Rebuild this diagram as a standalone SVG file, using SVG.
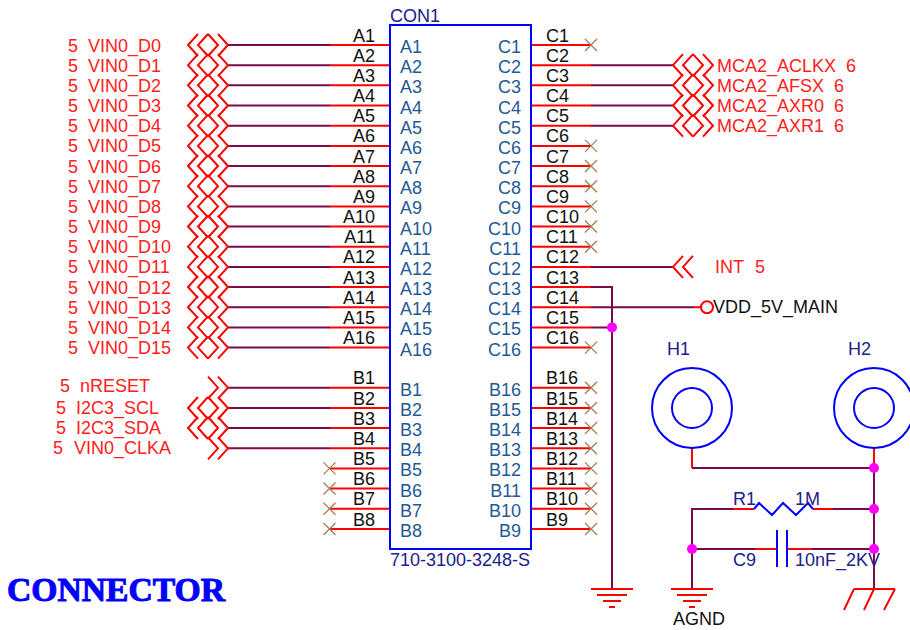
<svg xmlns="http://www.w3.org/2000/svg" width="910" height="630" viewBox="0 0 910 630">
<style>
text{font-family:"Liberation Sans",Arial,sans-serif;font-size:18px}
.n{fill:#ff2020}
.i{fill:#1f5a96}
.o{fill:#111}
.s{fill:#20208c}
.r{stroke:#ff0000;stroke-width:2;fill:none}
.d{stroke:#7a0a4a;stroke-width:2;fill:none}
.b{stroke:#0000ff;stroke-width:2;fill:none}
.c{stroke:#ff0000;stroke-width:2;fill:none}
.x{stroke:#a67c52;stroke-width:1.3;fill:none}
.j{fill:#ff00ff}
.t{font-family:"Liberation Serif",serif;font-weight:bold;font-size:33px;fill:#0000ff;stroke:#0000ff;stroke-width:1}
</style>
<defs>
<g id="ll"><path class="c" d="M10-11 0 0 10 11M20-11 10 0 20 11"/></g>
<g id="rr"><path class="c" d="M0-11 10 0 0 11M10-11 20 0 10 11"/></g>
<g id="nc"><path class="x" d="M-6-6 6 6M-6 6 6-6"/></g>
<g id="gnd"><path class="c" d="M-21 0H21M-15 6H15M-9 12H9M-3 18H3"/></g>
</defs>
<g id="connectors">
<path class="r" d="M330 45H390M330 65.2H390M330 85.3H390M330 105.5H390M330 125.7H390M330 145.9H390M330 166H390M330 186.2H390M330 206.4H390M330 226.5H390M330 246.7H390M330 266.9H390M330 287H390M330 307.2H390M330 327.4H390M330 347.6H390M330 387.7H390M330 408H390M330 428H390M330 448.3H390M330 468.4H390M330 488.5H390M330 508.7H390M330 529H390"/>
<path class="d" d="M228 45H330M228 65.2H330M228 85.3H330M228 105.5H330M228 125.7H330M228 145.9H330M228 166H330M228 186.2H330M228 206.4H330M228 226.5H330M228 246.7H330M228 266.9H330M228 287H330M228 307.2H330M228 327.4H330M228 347.6H330M228 387.7H330M228 408H330M228 428H330M228 448.3H330"/>
<path class="r" d="M531 45H591M531 65.2H591M531 85.3H591M531 105.5H591M531 125.7H591M531 145.9H591M531 166H591M531 186.2H591M531 206.4H591M531 226.5H591M531 246.7H591M531 266.9H591M531 287H591M531 307.2H591M531 327.4H591M531 347.6H591M531 387.7H591M531 408H591M531 428H591M531 448.3H591M531 468.4H591M531 488.5H591M531 508.7H591M531 529H591"/>
<path class="d" d="M591 65.2H673M591 85.3H673M591 105.5H673M591 125.7H673M591 266.9H673M591 287H612V589M591 307.2H694M591 327.4H612"/>
<path class="r" d="M694 307.2H701"/>
<path class="r" d="M692 448V468M874 448V468"/>
<path class="d" d="M692 468H874M874 468V589"/>
<path class="d" d="M692 589V509H733M833 509H874M692 549H755M812 549H874"/>
<path class="r" d="M733 509H754M813 509H833M755 549H777M787 549H812"/>
</g>
<g id="con1">
<rect class="b" x="390" y="25" width="141" height="524"/>
<text class="s" x="390" y="21.5">CON1</text>
<text class="s" x="390" y="566">710-3100-3248-S</text>
<g class="i">
<text class="i" x="400" y="53">A1</text><text class="i" x="400" y="73.2">A2</text><text class="i" x="400" y="93.3">A3</text><text class="i" x="400" y="113.5">A4</text><text class="i" x="400" y="133.7">A5</text><text class="i" x="400" y="153.9">A6</text><text class="i" x="400" y="174">A7</text><text class="i" x="400" y="194.2">A8</text><text class="i" x="400" y="214.4">A9</text><text class="i" x="400" y="234.5">A10</text><text class="i" x="400" y="254.7">A11</text><text class="i" x="400" y="274.9">A12</text><text class="i" x="400" y="295">A13</text><text class="i" x="400" y="315.2">A14</text><text class="i" x="400" y="335.4">A15</text><text class="i" x="400" y="355.6">A16</text>
<text class="i" x="400" y="395.7">B1</text><text class="i" x="400" y="416">B2</text><text class="i" x="400" y="436">B3</text><text class="i" x="400" y="456.3">B4</text><text class="i" x="400" y="476.4">B5</text><text class="i" x="400" y="496.5">B6</text><text class="i" x="400" y="516.7">B7</text><text class="i" x="400" y="537">B8</text>
</g>
<g text-anchor="end">
<text class="i" x="521" y="53">C1</text><text class="i" x="521" y="73.2">C2</text><text class="i" x="521" y="93.3">C3</text><text class="i" x="521" y="113.5">C4</text><text class="i" x="521" y="133.7">C5</text><text class="i" x="521" y="153.9">C6</text><text class="i" x="521" y="174">C7</text><text class="i" x="521" y="194.2">C8</text><text class="i" x="521" y="214.4">C9</text><text class="i" x="521" y="234.5">C10</text><text class="i" x="521" y="254.7">C11</text><text class="i" x="521" y="274.9">C12</text><text class="i" x="521" y="295">C13</text><text class="i" x="521" y="315.2">C14</text><text class="i" x="521" y="335.4">C15</text><text class="i" x="521" y="355.6">C16</text>
<text class="i" x="521" y="395.7">B16</text><text class="i" x="521" y="416">B15</text><text class="i" x="521" y="436">B14</text><text class="i" x="521" y="456.3">B13</text><text class="i" x="521" y="476.4">B12</text><text class="i" x="521" y="496.5">B11</text><text class="i" x="521" y="516.7">B10</text><text class="i" x="521" y="537">B9</text>
</g>
<g text-anchor="end">
<text class="o" x="375" y="41.5">A1</text><text class="o" x="375" y="61.7">A2</text><text class="o" x="375" y="81.8">A3</text><text class="o" x="375" y="102">A4</text><text class="o" x="375" y="122.2">A5</text><text class="o" x="375" y="142.4">A6</text><text class="o" x="375" y="162.5">A7</text><text class="o" x="375" y="182.7">A8</text><text class="o" x="375" y="202.9">A9</text><text class="o" x="375" y="223">A10</text><text class="o" x="375" y="243.2">A11</text><text class="o" x="375" y="263.4">A12</text><text class="o" x="375" y="283.5">A13</text><text class="o" x="375" y="303.7">A14</text><text class="o" x="375" y="323.9">A15</text><text class="o" x="375" y="344.1">A16</text>
<text class="o" x="375" y="384.2">B1</text><text class="o" x="375" y="404.5">B2</text><text class="o" x="375" y="424.5">B3</text><text class="o" x="375" y="444.8">B4</text><text class="o" x="375" y="464.9">B5</text><text class="o" x="375" y="485">B6</text><text class="o" x="375" y="505.2">B7</text><text class="o" x="375" y="525.5">B8</text>
</g>
<text class="o" x="546" y="41.5">C1</text><text class="o" x="546" y="61.7">C2</text><text class="o" x="546" y="81.8">C3</text><text class="o" x="546" y="102">C4</text><text class="o" x="546" y="122.2">C5</text><text class="o" x="546" y="142.4">C6</text><text class="o" x="546" y="162.5">C7</text><text class="o" x="546" y="182.7">C8</text><text class="o" x="546" y="202.9">C9</text><text class="o" x="546" y="223">C10</text><text class="o" x="546" y="243.2">C11</text><text class="o" x="546" y="263.4">C12</text><text class="o" x="546" y="283.5">C13</text><text class="o" x="546" y="303.7">C14</text><text class="o" x="546" y="323.9">C15</text><text class="o" x="546" y="344.1">C16</text>
<text class="o" x="546" y="384.2">B16</text><text class="o" x="546" y="404.5">B15</text><text class="o" x="546" y="424.5">B14</text><text class="o" x="546" y="444.8">B13</text><text class="o" x="546" y="464.9">B12</text><text class="o" x="546" y="485">B11</text><text class="o" x="546" y="505.2">B10</text><text class="o" x="546" y="525.5">B9</text>
</g>
<g id="no-connects">
<use href="#nc" x="591" y="45"/><use href="#nc" x="591" y="145.9"/><use href="#nc" x="591" y="166"/><use href="#nc" x="591" y="186.2"/><use href="#nc" x="591" y="206.4"/><use href="#nc" x="591" y="226.5"/><use href="#nc" x="591" y="246.7"/><use href="#nc" x="591" y="347.6"/>
<use href="#nc" x="591" y="387.7"/><use href="#nc" x="591" y="408"/><use href="#nc" x="591" y="428"/><use href="#nc" x="591" y="448.3"/><use href="#nc" x="591" y="468.4"/><use href="#nc" x="591" y="488.5"/><use href="#nc" x="591" y="508.7"/><use href="#nc" x="591" y="529"/>
<use href="#nc" x="329.5" y="468.4"/><use href="#nc" x="329.5" y="488.5"/><use href="#nc" x="329.5" y="508.7"/><use href="#nc" x="329.5" y="529"/>
</g>
<g id="VIN0_D0"><use href="#ll" x="188" y="45"/><use href="#rr" x="208" y="45"/><text class="n" x="68" y="51.5">5</text><text class="n" x="88" y="51.5">VIN0_D0</text></g>
<g id="VIN0_D1"><use href="#ll" x="188" y="65.2"/><use href="#rr" x="208" y="65.2"/><text class="n" x="68" y="71.7">5</text><text class="n" x="88" y="71.7">VIN0_D1</text></g>
<g id="VIN0_D2"><use href="#ll" x="188" y="85.3"/><use href="#rr" x="208" y="85.3"/><text class="n" x="68" y="91.8">5</text><text class="n" x="88" y="91.8">VIN0_D2</text></g>
<g id="VIN0_D3"><use href="#ll" x="188" y="105.5"/><use href="#rr" x="208" y="105.5"/><text class="n" x="68" y="112">5</text><text class="n" x="88" y="112">VIN0_D3</text></g>
<g id="VIN0_D4"><use href="#ll" x="188" y="125.7"/><use href="#rr" x="208" y="125.7"/><text class="n" x="68" y="132.2">5</text><text class="n" x="88" y="132.2">VIN0_D4</text></g>
<g id="VIN0_D5"><use href="#ll" x="188" y="145.9"/><use href="#rr" x="208" y="145.9"/><text class="n" x="68" y="152.4">5</text><text class="n" x="88" y="152.4">VIN0_D5</text></g>
<g id="VIN0_D6"><use href="#ll" x="188" y="166"/><use href="#rr" x="208" y="166"/><text class="n" x="68" y="172.5">5</text><text class="n" x="88" y="172.5">VIN0_D6</text></g>
<g id="VIN0_D7"><use href="#ll" x="188" y="186.2"/><use href="#rr" x="208" y="186.2"/><text class="n" x="68" y="192.7">5</text><text class="n" x="88" y="192.7">VIN0_D7</text></g>
<g id="VIN0_D8"><use href="#ll" x="188" y="206.4"/><use href="#rr" x="208" y="206.4"/><text class="n" x="68" y="212.9">5</text><text class="n" x="88" y="212.9">VIN0_D8</text></g>
<g id="VIN0_D9"><use href="#ll" x="188" y="226.5"/><use href="#rr" x="208" y="226.5"/><text class="n" x="68" y="233">5</text><text class="n" x="88" y="233">VIN0_D9</text></g>
<g id="VIN0_D10"><use href="#ll" x="188" y="246.7"/><use href="#rr" x="208" y="246.7"/><text class="n" x="68" y="253.2">5</text><text class="n" x="88" y="253.2">VIN0_D10</text></g>
<g id="VIN0_D11"><use href="#ll" x="188" y="266.9"/><use href="#rr" x="208" y="266.9"/><text class="n" x="68" y="273.4">5</text><text class="n" x="88" y="273.4">VIN0_D11</text></g>
<g id="VIN0_D12"><use href="#ll" x="188" y="287"/><use href="#rr" x="208" y="287"/><text class="n" x="68" y="293.5">5</text><text class="n" x="88" y="293.5">VIN0_D12</text></g>
<g id="VIN0_D13"><use href="#ll" x="188" y="307.2"/><use href="#rr" x="208" y="307.2"/><text class="n" x="68" y="313.7">5</text><text class="n" x="88" y="313.7">VIN0_D13</text></g>
<g id="VIN0_D14"><use href="#ll" x="188" y="327.4"/><use href="#rr" x="208" y="327.4"/><text class="n" x="68" y="333.9">5</text><text class="n" x="88" y="333.9">VIN0_D14</text></g>
<g id="VIN0_D15"><use href="#ll" x="188" y="347.6"/><use href="#rr" x="208" y="347.6"/><text class="n" x="68" y="354.1">5</text><text class="n" x="88" y="354.1">VIN0_D15</text></g>
<g id="nRESET"><use href="#rr" x="208" y="387.7"/><text class="n" x="60" y="392">5</text><text class="n" x="80" y="392">nRESET</text></g>
<g id="I2C3_SCL"><use href="#ll" x="188" y="408"/><use href="#rr" x="208" y="408"/><text class="n" x="56" y="414">5</text><text class="n" x="76" y="414">I2C3_SCL</text></g>
<g id="I2C3_SDA"><use href="#ll" x="188" y="428"/><use href="#rr" x="208" y="428"/><text class="n" x="56" y="434">5</text><text class="n" x="76" y="434">I2C3_SDA</text></g>
<g id="VIN0_CLKA"><use href="#rr" x="208" y="448.3"/><text class="n" x="53" y="454">5</text><text class="n" x="74" y="454">VIN0_CLKA</text></g>
<g id="MCA2_ACLKX"><use href="#ll" x="673" y="65.2"/><use href="#rr" x="693" y="65.2"/><text class="n" x="717" y="71.7">MCA2_ACLKX</text><text class="n" x="846" y="71.7">6</text></g>
<g id="MCA2_AFSX"><use href="#ll" x="673" y="85.3"/><use href="#rr" x="693" y="85.3"/><text class="n" x="717" y="91.8">MCA2_AFSX</text><text class="n" x="834" y="91.8">6</text></g>
<g id="MCA2_AXR0"><use href="#ll" x="673" y="105.5"/><use href="#rr" x="693" y="105.5"/><text class="n" x="717" y="112">MCA2_AXR0</text><text class="n" x="834" y="112">6</text></g>
<g id="MCA2_AXR1"><use href="#ll" x="673" y="125.7"/><use href="#rr" x="693" y="125.7"/><text class="n" x="717" y="132.2">MCA2_AXR1</text><text class="n" x="834" y="132.2">6</text></g>
<g id="INT"><use href="#ll" x="673" y="266.9"/><text class="n" x="715" y="273.4">INT</text><text class="n" x="755" y="273.4">5</text></g>
<g id="VDD_5V_MAIN"><circle cx="707" cy="307.2" r="6" class="c"/><text class="o" x="713" y="313">VDD_5V_MAIN</text></g>
<g id="J1"><circle class="j" cx="612" cy="327.4" r="5"/></g>
<g id="GND1"><use href="#gnd" x="612" y="589"/></g>
<g id="H1"><circle class="b" cx="692" cy="408" r="40"/><circle class="b" cx="692" cy="408" r="20"/><text class="s" x="667" y="355">H1</text></g>
<g id="H2"><circle class="b" cx="874" cy="408" r="40"/><circle class="b" cx="874" cy="408" r="20"/><text class="s" x="848" y="355">H2</text></g>
<g id="R1"><path class="b" d="M754 509 759 503 772 515 783 503 796 515 808 503 813 509"/><text class="s" x="733" y="505">R1</text><text class="s" x="795" y="505">1M</text></g>
<g id="C9"><path class="b" d="M777 530V567M787 530V567"/><text class="s" x="733" y="566">C9</text><text class="s" x="795" y="566">10nF_2KV</text></g>
<g id="junctions"><circle class="j" cx="874" cy="468" r="5"/><circle class="j" cx="874" cy="509" r="5"/><circle class="j" cx="874" cy="549" r="5"/><circle class="j" cx="692" cy="549" r="5"/></g>
<g id="AGND"><use href="#gnd" x="692" y="589"/><text class="o" x="673" y="625">AGND</text></g>
<g id="EARTH"><path class="c" d="M854 589H895M854 589 844 610M874 589 864 610M895 589 884 610"/></g>
<text class="t" x="7" y="601" textLength="218" lengthAdjust="spacingAndGlyphs">CONNECTOR</text>
</svg>
